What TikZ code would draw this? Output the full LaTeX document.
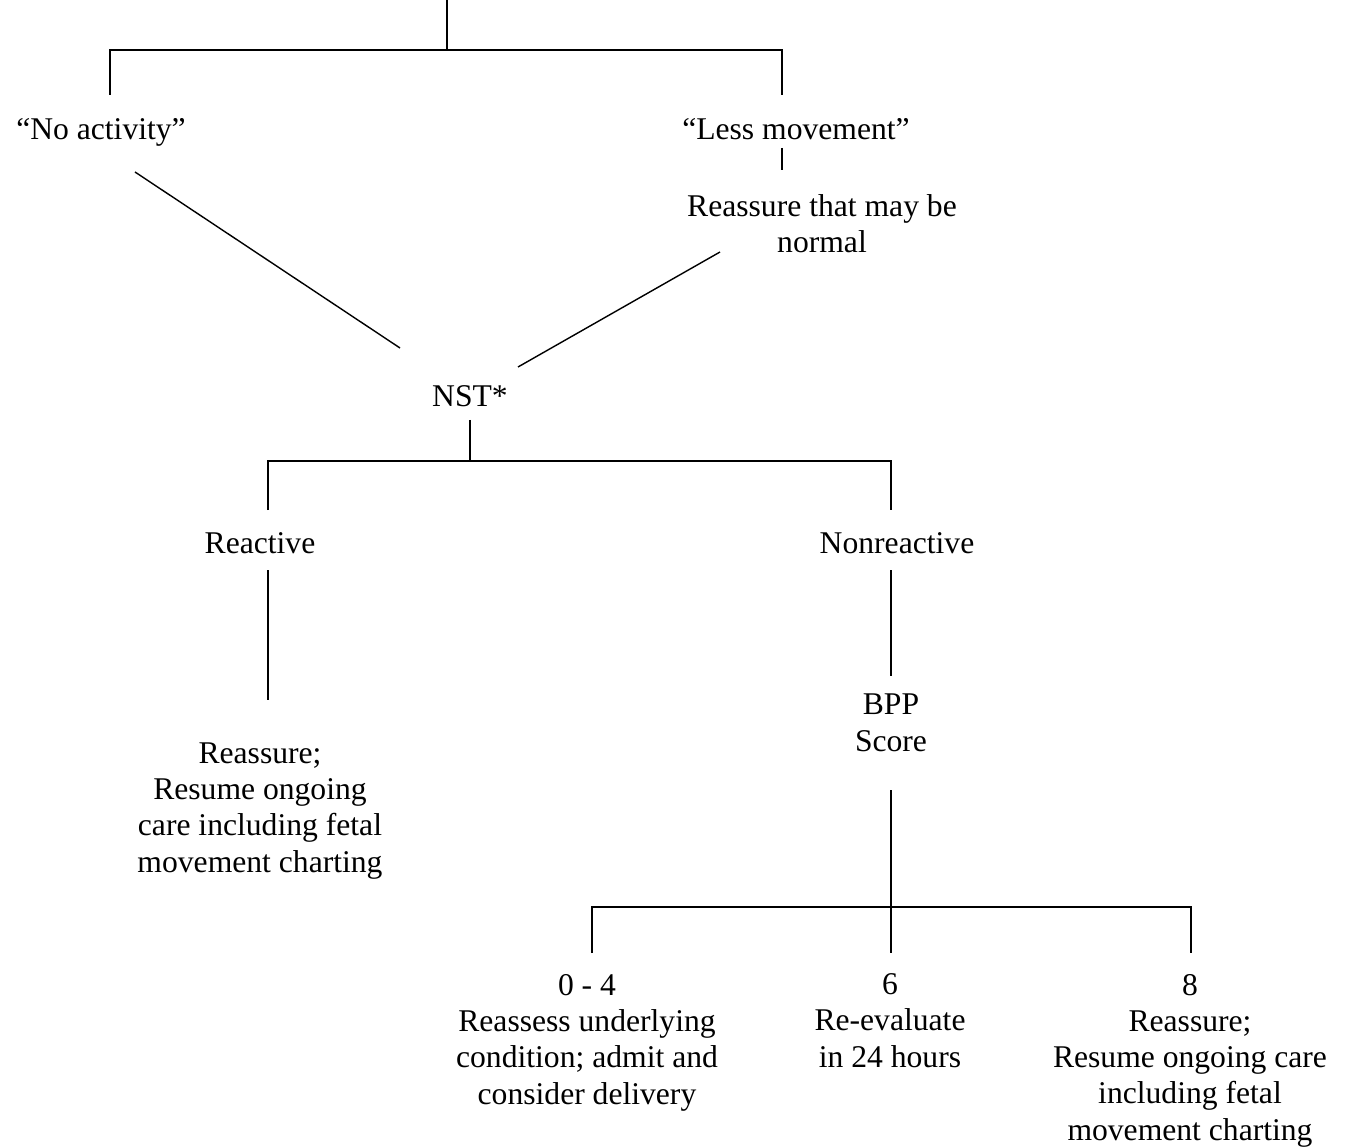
\documentclass[tikz,border=0pt]{standalone}
\usepackage{fontspec}
\setmainfont{Liberation Serif}
\usepackage{tikz}

\tikzset{
  lbl/.style={align=center,inner sep=0pt,anchor=base,font=\fontsize{18}{20.5}\selectfont},
  branch/.style={line width=0.8pt}
}

\begin{document}
\begin{tikzpicture}[x=0.02cm,y=-0.02cm,branch]
    \useasboundingbox (0,0) rectangle (1348,1148);

    % text nodes (placed at the baseline of their last line)
    \node[lbl] (noact)    at (101,140)  {“No activity”};
    \node[lbl] (less)     at (796,140)  {“Less movement”};
    \node[lbl] (normal)   at (822,253)  {Reassure that may be\\normal};
    \node[lbl] (nst)      at (470,407)  {NST*};
    \node[lbl] (react)    at (260,553)  {Reactive};
    \node[lbl] (nonreact) at (897,553)  {Nonreactive};
    \node[lbl] (reassure) at (260,872)  {Reassure;\\Resume ongoing\\care including fetal\\movement charting};
    \node[lbl] (bpp)      at (891,751)  {BPP\\Score};
    \node[lbl] (low)      at (587,1104) {0 - 4\\Reassess underlying\\condition; admit and\\consider delivery};
    \node[lbl] (mid)      at (890,1067) {6\\Re-evaluate\\in 24 hours};
    \node[lbl] (high)     at (1190,1140) {8\\Reassure;\\Resume ongoing care\\including fetal\\movement charting};

    % junction points
    \coordinate (top) at (447,0);
    \coordinate (ja)  at (447,50);
    \coordinate (jal) at (110,50);
    \coordinate (jar) at (782,50);
    \coordinate (jb)  at (470,461);
    \coordinate (jbl) at (268,461);
    \coordinate (jbr) at (891,461);
    \coordinate (jc)  at (891,907);
    \coordinate (jcl) at (592,907);
    \coordinate (jcr) at (1191,907);

    % top split
    \draw (top) -- (ja);
    \draw (jal) ++(0,45) -- (jal) -- (jar) -- ++(0,45);
    \draw (782,148) -- (782,170);

    % into NST
    \draw (135,172) -- (400,348);
    \draw (720,252) -- (518,367);

    % NST split
    \draw (470,420) -- (jb);
    \draw (jbl) ++(0,49) -- (jbl) -- (jbr) -- ++(0,49);
    \draw (268,570) -- (268,700);
    \draw (891,570) -- (891,676);

    % BPP split
    \draw (891,790) -- (jc) -- ++(0,46);
    \draw (jcl) ++(0,46) -- (jcl) -- (jcr) -- ++(0,46);
\end{tikzpicture}
\end{document}
